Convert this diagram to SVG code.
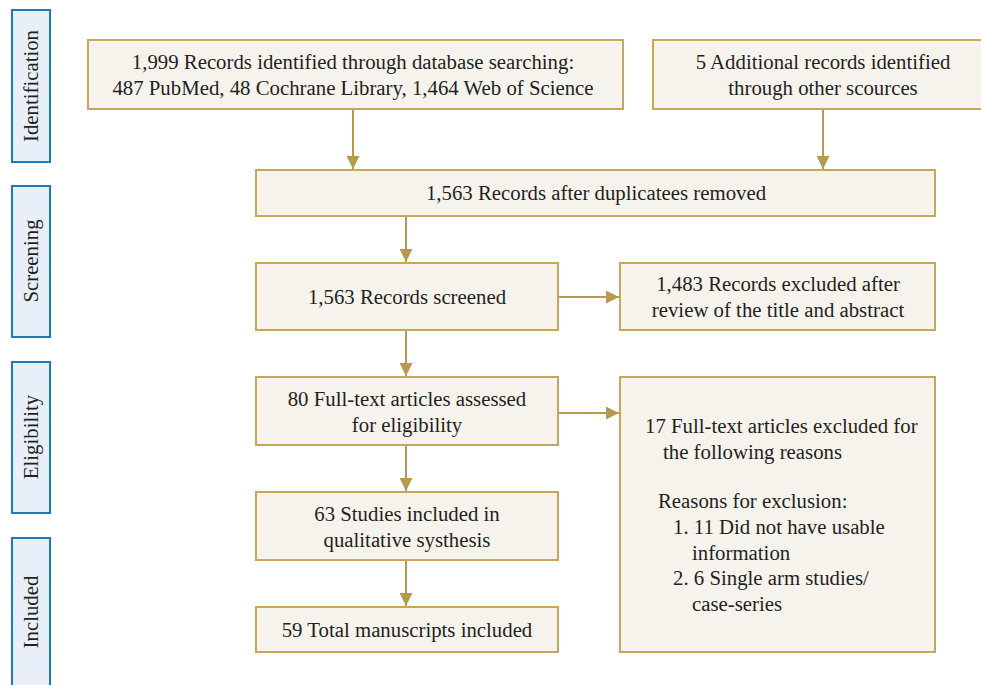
<svg xmlns="http://www.w3.org/2000/svg" width="981" height="685" viewBox="0 0 981 685">
<defs>
<style>
.box{fill:#f6f3ed;stroke:#c8a65a;stroke-width:2}
.side{fill:#e9eff8;stroke:#1b7bc0;stroke-width:2}
.t{font-family:"Liberation Serif",serif;font-size:20.8px;fill:#231f20}
.c{text-anchor:middle}
.conn{stroke:#b89a4e;stroke-width:2;fill:none}
</style>
<marker id="ah" viewBox="0 0 10 10" refX="10" refY="5" markerWidth="6.5" markerHeight="6.5" markerUnits="strokeWidth" orient="auto">
<path d="M0,0 L10,5 L0,10 z" fill="#b89a4e"/>
</marker>
</defs>
<rect width="981" height="685" fill="#ffffff"/>
<g id="phase-identification"><rect class="side" x="12" y="10" width="38" height="152"/><text class="t c" transform="translate(38,86) rotate(-90)">Identification</text></g>
<g id="phase-screening"><rect class="side" x="12" y="186" width="38" height="151"/><text class="t c" transform="translate(38,261) rotate(-90)">Screening</text></g>
<g id="phase-eligibility"><rect class="side" x="12" y="362" width="38" height="151"/><text class="t c" transform="translate(38,437) rotate(-90)">Eligibility</text></g>
<g id="phase-included"><rect class="side" x="12" y="538" width="38" height="160"/><text class="t c" transform="translate(38,612) rotate(-90)">Included</text></g>

<g id="connectors">
<line class="conn" x1="353" y1="109" x2="353" y2="169" marker-end="url(#ah)"/>
<line class="conn" x1="823" y1="109" x2="823" y2="169" marker-end="url(#ah)"/>
<line class="conn" x1="406" y1="216" x2="406" y2="262" marker-end="url(#ah)"/>
<line class="conn" x1="558" y1="297" x2="619" y2="297" marker-end="url(#ah)"/>
<line class="conn" x1="406" y1="330" x2="406" y2="376" marker-end="url(#ah)"/>
<line class="conn" x1="558" y1="413" x2="619" y2="413" marker-end="url(#ah)"/>
<line class="conn" x1="406" y1="445" x2="406" y2="491" marker-end="url(#ah)"/>
<line class="conn" x1="406" y1="560" x2="406" y2="606" marker-end="url(#ah)"/>
</g>

<g id="n-database"><rect class="box" x="88" y="40" width="535" height="69"/>
<text class="t c" x="353" y="69">1,999 Records identified through database searching:</text>
<text class="t c" x="353" y="95">487 PubMed, 48 Cochrane Library, 1,464 Web of Science</text></g>
<g id="n-other"><rect class="box" x="653" y="40" width="340" height="69"/>
<text class="t c" x="823" y="69">5 Additional records identified</text>
<text class="t c" x="823" y="95">through other scources</text></g>
<g id="n-dedup"><rect class="box" x="256" y="170" width="679" height="46"/>
<text class="t c" x="596" y="200">1,563 Records after duplicatees removed</text></g>
<g id="n-screened"><rect class="box" x="256" y="263" width="302" height="67"/>
<text class="t c" x="407" y="304">1,563 Records screened</text></g>
<g id="n-excluded1"><rect class="box" x="620" y="263" width="315" height="67"/>
<text class="t c" x="778" y="291">1,483 Records excluded after</text>
<text class="t c" x="778" y="317">review of the title and abstract</text></g>
<g id="n-fulltext"><rect class="box" x="256" y="377" width="302" height="68"/>
<text class="t c" x="407" y="406">80 Full-text articles assessed</text>
<text class="t c" x="407" y="432">for eligibility</text></g>
<g id="n-excluded2"><rect class="box" x="620" y="377" width="315" height="275"/>
<text class="t" x="645" y="433">17 Full-text articles excluded for</text>
<text class="t" x="663" y="459">the following reasons</text>
<text class="t" x="658" y="508">Reasons for exclusion:</text>
<text class="t" x="673" y="534">1. 11 Did not have usable</text>
<text class="t" x="692" y="560">information</text>
<text class="t" x="673" y="585">2. 6 Single arm studies/</text>
<text class="t" x="692" y="611">case-series</text></g>
<g id="n-qualitative"><rect class="box" x="256" y="492" width="302" height="68"/>
<text class="t c" x="407" y="521">63 Studies included in</text>
<text class="t c" x="407" y="547">qualitative systhesis</text></g>
<g id="n-total"><rect class="box" x="256" y="607" width="302" height="45"/>
<text class="t c" x="407" y="637">59 Total manuscripts included</text></g>
</svg>
